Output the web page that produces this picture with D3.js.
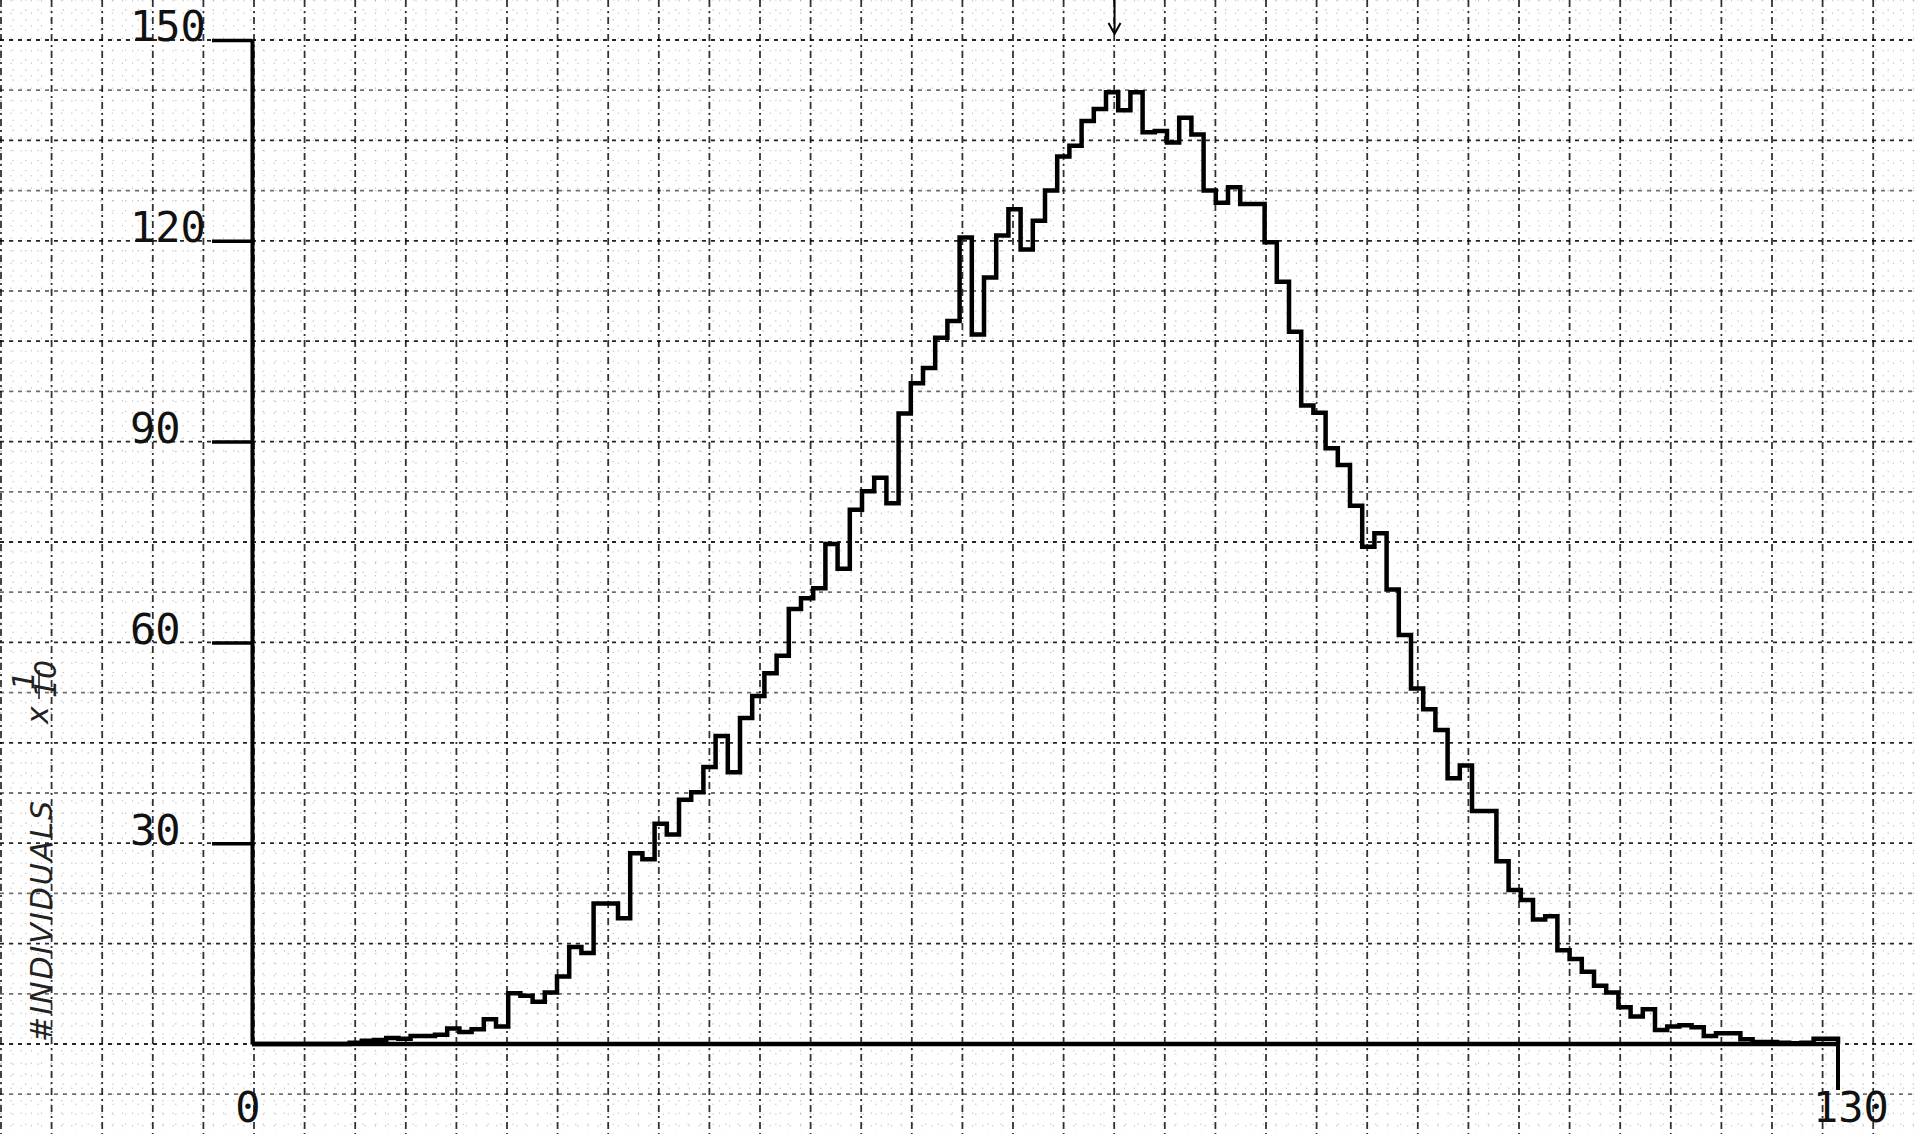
<!DOCTYPE html>
<html>
<head>
<meta charset="utf-8">
<script src="https://cdnjs.cloudflare.com/ajax/libs/d3/7.8.5/d3.min.js"></script>
<style>
body { margin: 0; background: #fff; }
svg { display: block; }
.lbl { font-family: "DejaVu Sans Mono", monospace; font-size: 42px; fill: #111; }
.hand { font-family: "DejaVu Sans", sans-serif; font-style: italic; font-size: 30px; fill: #222; }
</style>
</head>
<body>
<div id="container"></div>
<script>

// counts per bin (bin i covers i..i+1), units of 10 individuals
var counts = [
    0, 0, 0, 0, 0, 0, 0, 0, 0.2, 0.5,
    0.6, 0.9, 0.8, 1.2, 1.2, 1.4, 2.3, 1.8, 2.2, 3.7,
    2.6, 7.6, 7.2, 6.3, 7.7, 10.1, 14.5, 13.6, 21, 21,
    18.8, 28.5, 27.6, 32.9, 31.3, 36.5, 37.6, 41.4, 46.0, 40.6,
    48.7, 52, 55.4, 58, 65, 66.6, 68.1, 74.7, 71, 79.8,
    82.6, 84.6, 80.8, 94.2, 98.7, 101, 105.5, 108, 120.5, 106,
    114.5, 120.8, 124.7, 118.7, 123, 127.5, 132.6, 134.2, 137.9, 139.7,
    142.2, 139.5, 142.2, 136.2, 136.4, 134.7, 138.4, 135.9, 127.5, 125.7,
    128, 125.5, 125.5, 119.8, 113.9, 106.4, 95.4, 94.3, 89.0, 86.5,
    80.4, 74.3, 76.3, 67.9, 61.1, 53.1, 50.0, 46.9, 39.7, 41.6,
    34.8, 34.8, 27.3, 23.0, 21.5, 18.6, 19.1, 14.0, 12.7, 10.8,
    8.7, 7.7, 5.5, 4.1, 5.2, 2.1, 2.6, 2.8, 2.5, 1.2,
    1.6, 1.6, 0.7, 0.3, 0.3, 0.2, 0.1, 0.2, 0.8, 0.8
];
var yTicks = [30, 60, 90, 120, 150];
var xLabels = [0, 130];
var arrowAt = 70.7;   // marker arrow on top
var yTitle = "#INDIVIDUALS";

var W = 1915, H = 1134;

var x = d3.scaleLinear().domain([0, 130]).range([252, 1838]);
var y = d3.scaleLinear().domain([0, 150]).range([1044, 40]);

var svg = d3.select("#container").append("svg")
    .attr("width", W)
    .attr("height", H);

svg.append("rect").attr("width", W).attr("height", H).attr("fill", "#fff");

// graph paper (pixel pitch of the paper, not data)
var pitchX = 50.6, pitchY = 50.2;
var paper = svg.append("g");

var minorX = d3.range(-26, 165).map(function(n){ return x(0) + 2 + n * pitchX / 5; });
var minorY = d3.range(-12, 110).map(function(n){ return y(0) - n * pitchY / 5; });

paper.selectAll(".mx").data(minorX).enter().append("line")
    .attr("x1", function(d){ return d; }).attr("x2", function(d){ return d; })
    .attr("y1", 0).attr("y2", H)
    .attr("stroke", "#000").attr("stroke-opacity", 0.22)
    .attr("stroke-width", 1.1).attr("stroke-dasharray", "1.5,11");

paper.selectAll(".my").data(minorY).enter().append("line")
    .attr("y1", function(d){ return d; }).attr("y2", function(d){ return d; })
    .attr("x1", 0).attr("x2", W)
    .attr("stroke", "#000").attr("stroke-opacity", 0.22)
    .attr("stroke-width", 1.1).attr("stroke-dasharray", "1.5,11");

var majorX = d3.range(-5, 33).map(function(n){ return x(0) + 2 + n * pitchX; });
var majorY = d3.range(-2, 22).map(function(m){ return y(0) - m * pitchY; });

paper.selectAll(".vx").data(majorX).enter().append("line")
    .attr("x1", function(d){ return d; }).attr("x2", function(d){ return d; })
    .attr("y1", 0).attr("y2", H)
    .attr("stroke", "#000").attr("stroke-opacity", 0.8)
    .attr("stroke-width", 1.8).attr("stroke-dasharray", "7,4,2,4");

paper.selectAll(".hy").data(majorY).enter().append("line")
    .attr("y1", function(d){ return d; }).attr("y2", function(d){ return d; })
    .attr("x1", 0).attr("x2", W)
    .attr("stroke", "#000")
    .attr("stroke-opacity", function(d, i){ return i % 2 == 0 ? 0.85 : 0.55; })
    .attr("stroke-width", 1.8).attr("stroke-dasharray", "4,5");

// y axis
var yAxis = svg.append("g")
    .attr("transform", "translate(" + x(0) + ",0)")
    .call(d3.axisLeft(y).tickValues(yTicks).tickSize(x(0) - 212).tickSizeOuter(0));

yAxis.select(".domain").attr("stroke", "#000").attr("stroke-width", 4);
yAxis.selectAll(".tick line").attr("stroke", "#000").attr("stroke-width", 3.5);
yAxis.selectAll(".tick text")
    .attr("class", "lbl")
    .attr("text-anchor", "start")
    .attr("x", 130 - x(0))
    .attr("dy", "0.02em")
    .attr("font-size", null)
    .attr("font-family", null)
    .attr("fill", null);

// baseline
svg.append("line")
    .attr("x1", x(0)).attr("x2", x(130))
    .attr("y1", y(0)).attr("y2", y(0))
    .attr("stroke", "#000").attr("stroke-width", 4.5);

// end tick at 130
svg.append("line")
    .attr("x1", x(130)).attr("x2", x(130))
    .attr("y1", y(0) - 4).attr("y2", y(0) + 46)
    .attr("stroke", "#000").attr("stroke-width", 4);

svg.selectAll(".xl").data(xLabels).enter().append("text")
    .attr("class", "lbl")
    .attr("x", function(d){ return d == 0 ? x(d) - 4 : x(d) - 25; })
    .attr("y", 1122)
    .attr("text-anchor", function(d){ return d == 0 ? "middle" : "start"; })
    .text(function(d){ return d; });

// histogram
var pts = counts.map(function(c, i){ return [i, c]; });
pts.push([130, counts[counts.length - 1]]);
pts.push([130, 0]);

var line = d3.line()
    .x(function(d){ return x(d[0]); })
    .y(function(d){ return y(d[1]); })
    .curve(d3.curveStepAfter);

svg.append("path")
    .datum(pts)
    .attr("d", line)
    .attr("fill", "none")
    .attr("stroke", "#000")
    .attr("stroke-width", 4.5)
    .attr("stroke-linejoin", "miter");

// arrow at top
var ax = x(arrowAt);
svg.append("line")
    .attr("x1", ax).attr("x2", ax).attr("y1", 0).attr("y2", 33)
    .attr("stroke", "#000").attr("stroke-width", 2);
svg.append("path")
    .attr("d", "M" + (ax - 6) + ",23 L" + ax + ",34 L" + (ax + 6) + ",23")
    .attr("fill", "none").attr("stroke", "#000").attr("stroke-width", 2);

// handwritten y title
var t = svg.append("g").attr("transform", "translate(52,1042) rotate(-90)");
t.append("text").attr("class", "hand")
    .attr("letter-spacing", 2)
    .text(yTitle);
t.append("text").attr("class", "hand")
    .attr("x", 318).attr("y", -4)
    .text("x");
t.append("text").attr("class", "hand")
    .attr("x", 352).attr("y", -18).attr("font-size", 18)
    .text("1");
t.append("line")
    .attr("x1", 343).attr("x2", 372).attr("y1", -13).attr("y2", -13)
    .attr("stroke", "#222").attr("stroke-width", 1.6);
t.append("text").attr("class", "hand")
    .attr("x", 344).attr("y", 4).attr("font-size", 18)
    .text("10");

</script>
</body>
</html>
